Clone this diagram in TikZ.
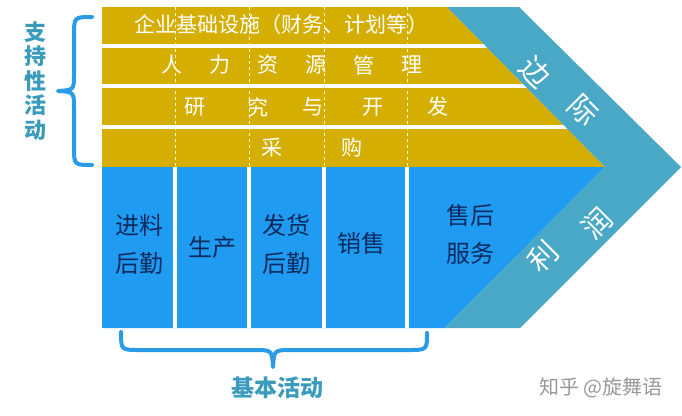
\documentclass[tikz,border=0pt]{standalone}
\usepackage{fontspec}
\setmainfont{Noto Sans CJK SC}
\usetikzlibrary{positioning}
\definecolor{vcGold}{HTML}{D5AE02}
\definecolor{vcBlue}{HTML}{1F9CF2}
\definecolor{vcTeal}{HTML}{48A8C6}
\definecolor{vcNavy}{HTML}{0C2A5E}
\definecolor{vcLabel}{HTML}{3B9BBD}
\definecolor{vcBrace}{HTML}{2A9BE6}

\begin{document}
\begin{tikzpicture}[x=1pt, y=-1pt,
    supp/.style={text=white, font=\fontsize{21}{22}\selectfont, inner sep=0},
    prim/.style={text=vcNavy, font=\fontsize{24}{38}\selectfont, align=center, inner sep=0},
    margin/.style={text=white, font=\fontsize{29}{30}\selectfont, inner sep=0},
    side/.style={text=vcLabel, font=\fontsize{22}{24.5}\selectfont\bfseries, align=center, inner sep=0},
    brace/.style={draw=vcBrace, line width=4, line cap=round, line join=round}]
                        \useasboundingbox (0,0) rectangle (682,415);

                        % chevron
                        \fill[vcGold] (102,7) -- (447,7) -- (605,167) -- (102,167) -- cycle;
                        \fill[vcBlue] (102,167) -- (605,167) -- (445,328) -- (102,328) -- cycle;
                        \foreach \y in {45.5, 86, 126.5}
                            \draw[white, line width=4] (102,\y) -- (640,\y);
                        \foreach \x in {175, 249, 324, 407} {
                            \draw[white!85!yellow, line width=1, dashed] (\x,7) -- (\x,167);
                            \draw[white, line width=3.5] (\x,167) -- (\x,328);
                        }
                        \fill[vcTeal] (447,7) -- (519,7) -- (681,167) -- (520,328) -- (445,328)
                            -- (605,167) -- cycle;

                        % support rows
                        \node[supp] (infra) at (281,25) {企业基础设施（财务、计划等）};
                        \node[supp] (hr1) at (172,65) {人};
                        \node[supp] (hr2) [right of = hr1, node distance=48pt] {力};
                        \node[supp] (hr3) [right of = hr2, node distance=48pt] {资};
                        \node[supp] (hr4) [right of = hr3, node distance=48pt] {源};
                        \node[supp] (hr5) [right of = hr4, node distance=48pt] {管};
                        \node[supp] (hr6) [right of = hr5, node distance=48pt] {理};
                        \node[supp] (rd1) at (195,107) {研};
                        \node[supp] (rd2) at (258,107) {究};
                        \node[supp] (rd3) at (313,107) {与};
                        \node[supp] (rd4) at (373,107) {开};
                        \node[supp] (rd5) at (438,107) {发};
                        \node[supp] (buy1) at (272,148) {采};
                        \node[supp] (buy2) at (352,148) {购};

                        % primary columns
                        \node[prim] (inlog) at (139,244) {进料\\后勤};
                        \node[prim] (prod) at (212,247) {生产};
                        \node[prim] (outlog) at (286,244) {发货\\后勤};
                        \node[prim] (sales) at (361,243) {销售};
                        \node[prim] (service) at (470,234) {售后\\服务};

                        % margin band
                        \node[margin, rotate=-45] (mg1) at (535,72) {边};
                        \node[margin, rotate=-45] (mg2) at (583,110) {际};
                        \node[margin, rotate=45] (pf1) at (543,257) {利};
                        \node[margin, rotate=45] (pf2) at (597,223) {润};

                        % braces and labels
                        \draw[brace] (92,17) .. controls (74,17) .. (74,36) -- (74,74)
                            .. controls (74,90) .. (58,91) .. controls (74,92) .. (74,108)
                            -- (74,147) .. controls (74,165) .. (92,165);
                        \node[side] (support) at (35,81) {支\\持\\性\\活\\动};
                        \draw[brace] (121,332) .. controls (121,350) .. (140,350) -- (254,350)
                            .. controls (272,350) .. (273,367) .. controls (274,350) .. (292,350)
                            -- (408,350) .. controls (427,350) .. (427,333);
                        \node[side, font=\fontsize{23}{24}\selectfont\bfseries] (primary) at (277,388) {基本活动};

                        \node[text=black!40, font=\fontsize{20}{22}\selectfont, inner sep=0] (mark) at (601,388) {知乎 @旋舞语};
                    \end{tikzpicture}
\end{document}
